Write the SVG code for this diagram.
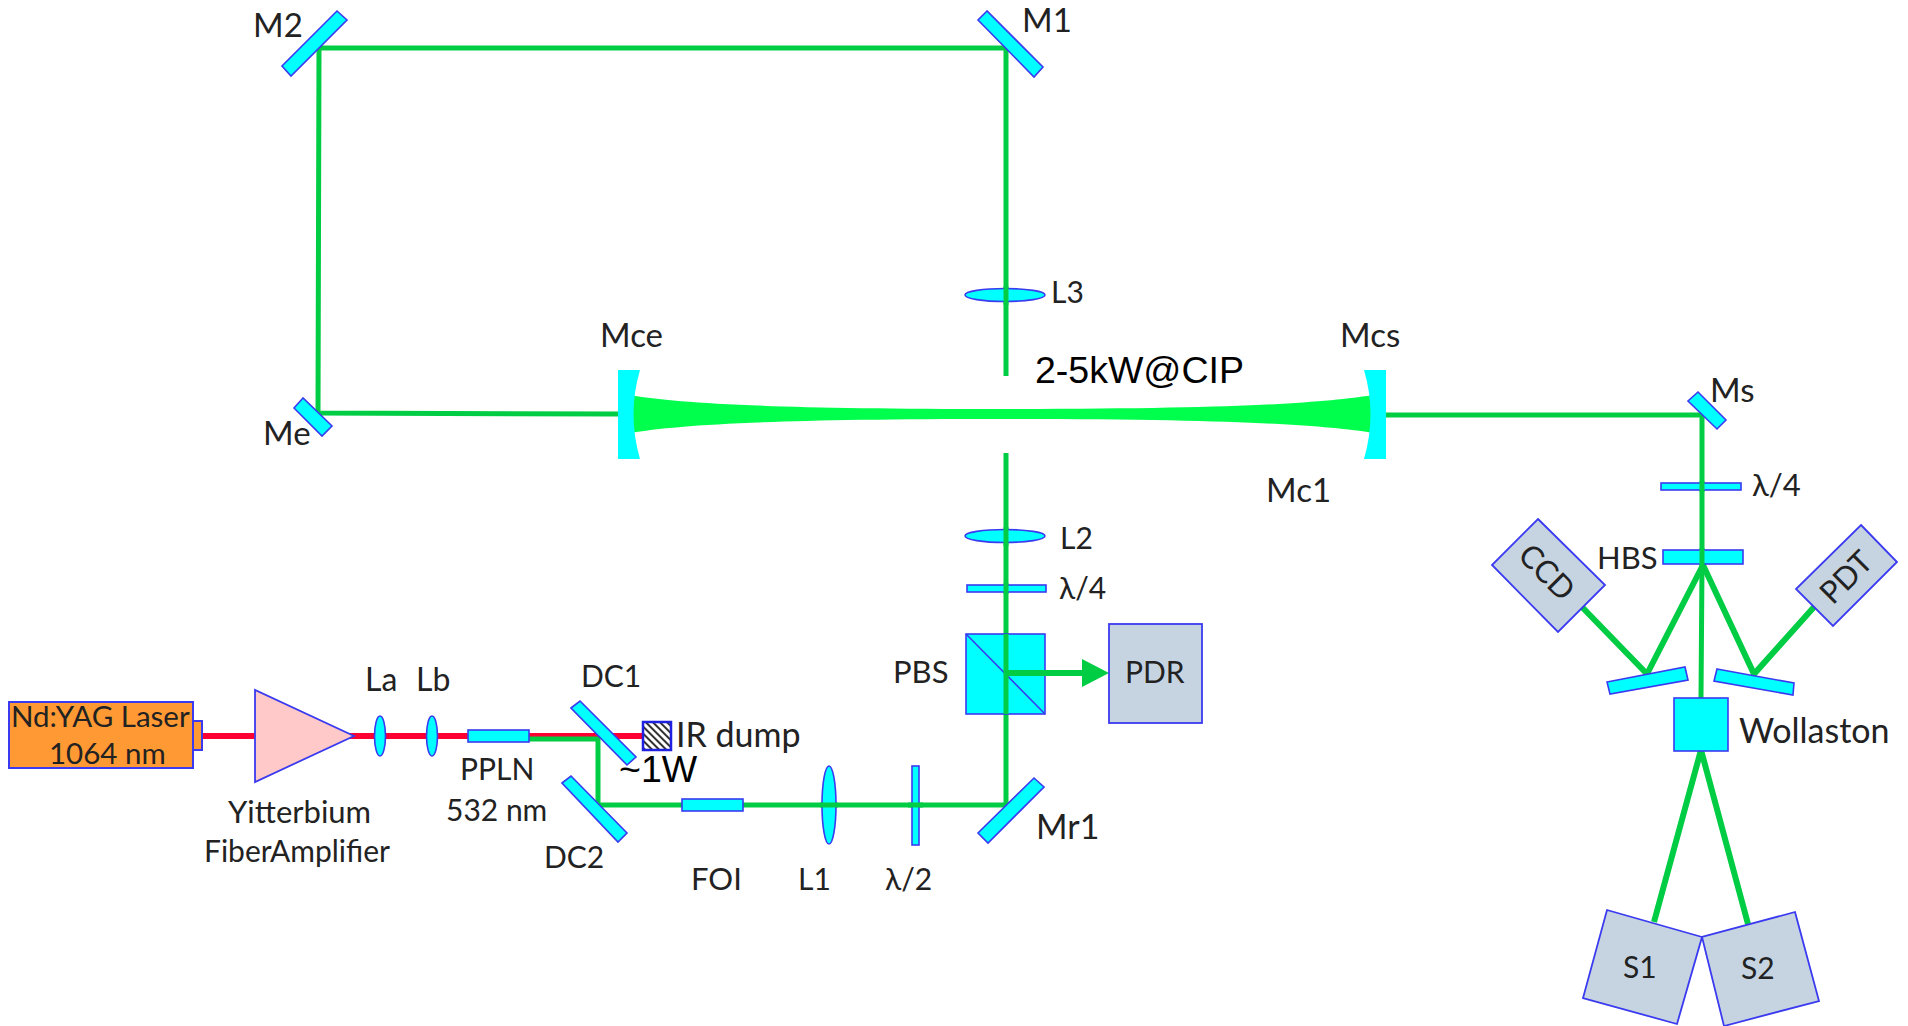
<svg xmlns="http://www.w3.org/2000/svg" width="1908" height="1026" viewBox="0 0 1908 1026">
<style>
.o{fill:#00ffff;stroke:#3a3af0;stroke-width:1.6}
.d{fill:#c6d4e2;stroke:#3a3af0;stroke-width:1.8}
.g{fill:none;stroke:#00cc44;stroke-width:5}
.gt{fill:none;stroke:#00cc44;stroke-width:6}
.r{fill:none;stroke:#ff0033;stroke-width:6}
text{font-family:Lato,"Open Sans",sans-serif;font-size:30px;fill:#222}
.a{font-family:"Liberation Sans",Arial,sans-serif;font-size:37.5px;fill:#000}
.n{font-size:29.5px}
.s31{font-size:31px}
.s32{font-size:32px}
.s33{font-size:33px}
.s34{font-size:34px}
</style>
<defs>
<pattern id="hatch" width="5" height="5" patternUnits="userSpaceOnUse" patternTransform="rotate(-45)">
<rect width="5" height="5" fill="#fff"/><rect width="2" height="5" fill="#333"/>
</pattern>
<marker id="head" markerUnits="userSpaceOnUse" markerWidth="28" markerHeight="28" refX="1" refY="14" orient="auto">
<path d="M0,0L27,14L0,28Z" fill="#00cc44"/>
</marker>
</defs>
<g id="connectors">
<path class="r" d="M200,736H643"/>
<path class="g" d="M529,739H598V805H1006V453"/>
<path class="g" d="M1006,376V48H319L318,413L618,414"/>
<path class="g" d="M1385,415H1702V565L1701,698"/>
<path class="gt" d="M1582,607L1647,674L1703,565L1754,674L1814,607"/>
<path class="gt" d="M1654,922L1701,750L1748,924"/>
<path class="gt" d="M1006,673H1083" marker-end="url(#head)"/>
<path id="beam" fill="#00ff4c" d="M629,395C680,403 760,409 1001,409C1240,409 1320,403 1374,395V433C1320,425 1240,419 1001,419C760,419 680,425 629,433Z"/>
</g>
<g id="laser"><rect x="9" y="702" width="184" height="66" fill="#ff9933" stroke="#3a3af0" stroke-width="2"/><rect x="193" y="721" width="9" height="29" fill="#ff9933" stroke="#3a3af0" stroke-width="2"/><text class="n" x="11" y="727">Nd:YAG Laser</text><text class="n" x="49" y="764">1064 nm</text></g>
<g id="amplifier"><path d="M255,690L255,782L354,736Z" fill="#ffc9c9" stroke="#3a3af0" stroke-width="1.8"/><text class="s31" x="228" y="823">Yitterbium</text><text x="204" y="862">FiberAmplifier</text></g>
<g id="La"><ellipse class="o" cx="380" cy="736" rx="5.5" ry="20"/><text class="s32" x="365" y="691">La</text></g>
<g id="Lb"><ellipse class="o" cx="432" cy="736" rx="5.5" ry="20"/><text class="s32" x="416" y="691">Lb</text></g>
<g id="PPLN"><rect class="o" x="468" y="730" width="61" height="12"/><text x="460" y="780">PPLN</text><text x="446" y="821">532 nm</text></g>
<g id="DC1"><path class="o" d="M571,708L580,701L636,757L627,765Z"/><text x="581" y="687">DC1</text></g>
<g id="IRdump"><rect x="643" y="722" width="28" height="28" fill="url(#hatch)" stroke="#2020e0" stroke-width="2.5"/><text class="s34" x="676" y="747">IR dump</text></g>
<text class="a" x="619" y="782">~1W</text>
<g id="DC2"><path class="o" d="M562,783L571,776L627,833L618,842Z"/><text x="544" y="868">DC2</text></g>
<g id="FOI"><rect class="o" x="682" y="799" width="61" height="12"/><text class="s31" x="691" y="890">FOI</text></g>
<g id="L1"><ellipse class="o" cx="829" cy="805" rx="7" ry="39"/><path class="g" d="M820,805H838"/><text x="798" y="890">L1</text></g>
<g id="halfwave"><rect class="o" x="912" y="766" width="7" height="79"/><path class="g" d="M908,805H923"/><text x="885" y="890">λ/2</text></g>
<g id="Mr1"><path class="o" d="M1034,778L1044,787L988,843L978,833Z"/><text class="s34" x="1036" y="839">Mr1</text></g>
<g id="PBS"><rect class="o" x="966" y="634" width="79" height="80"/><path d="M966,634L1045,714" stroke="#3a3af0" stroke-width="1.6"/><path class="g" d="M1006,634V714"/><path class="gt" d="M1006,673H1083"/><text class="s31" x="893" y="683">PBS</text></g>
<g id="PDR"><rect class="d" x="1109" y="624" width="93" height="99"/><text x="1125" y="683">PDR</text></g>
<g id="L2"><ellipse class="o" cx="1005" cy="536" rx="40" ry="6.5"/><path class="g" d="M1006,527V546"/><text x="1060" y="549">L2</text></g>
<g id="qw1"><rect class="o" x="967" y="585" width="79" height="7"/><path class="g" d="M1006,583V594"/><text x="1059" y="599">λ/4</text></g>
<g id="L3"><ellipse class="o" cx="1005" cy="295" rx="40" ry="6.5"/><path class="g" d="M1006,286V305"/><text x="1051" y="303">L3</text></g>
<g id="M1"><path class="o" d="M987,11L978,20L1034,77L1043,67Z"/><text class="s33" x="1022" y="32">M1</text></g>
<g id="M2"><path class="o" d="M337,11L347,20L291,76L282,66Z"/><text class="s33" x="253" y="37">M2</text></g>
<g id="Me"><path class="o" d="M303,398L294,408L322,436L332,426Z"/><text class="s33" x="263" y="445">Me</text></g>
<g id="Mce"><path fill="#00ffff" d="M618,370H640Q627,414 640,459H618Z"/><text class="s33" x="600" y="347">Mce</text></g>
<g id="Mcs"><path fill="#00ffff" d="M1386,370H1364Q1377,414 1364,459H1386Z"/><text class="s33" x="1340" y="347">Mcs</text><text class="s33" x="1266" y="502">Mc1</text></g>
<text class="a" x="1035" y="383">2-5kW@CIP</text>
<g id="Ms"><path class="o" d="M1698,392L1688,401L1717,429L1726,420Z"/><text class="s33" x="1710" y="402">Ms</text></g>
<g id="qw2"><rect class="o" x="1661" y="483" width="80" height="7"/><path class="g" d="M1702,481V492"/><text class="s31" x="1752" y="496">λ/4</text></g>
<g id="HBS"><rect class="o" x="1663" y="550" width="80" height="14"/><path class="g" d="M1702,548V565"/><text class="s31" x="1597" y="569">HBS</text></g>
<g id="mirrorL"><path class="o" d="M1607,682L1685,667L1688,680L1610,694Z"/></g>
<g id="mirrorR"><path class="o" d="M1717,669L1794,683L1793,695L1714,681Z"/></g>
<g id="CCD"><path class="d" d="M1538,519L1605,585L1558,632L1492,565Z"/><text class="s31" transform="translate(1547,572) rotate(45)" text-anchor="middle" y="11">CCD</text></g>
<g id="PDT"><path class="d" d="M1861,525L1897,562L1833,626L1796,589Z"/><text class="s31" transform="translate(1846,577) rotate(-45)" text-anchor="middle" y="11">PDT</text></g>
<g id="Wollaston"><rect class="o" x="1674" y="698" width="54" height="53"/><text class="s34" x="1739" y="743">Wollaston</text></g>
<g id="S1"><path class="d" d="M1607,910L1702,937L1677,1024L1583,998Z"/><text x="1623" y="978">S1</text></g>
<g id="S2"><path class="d" d="M1795,912L1819,1001L1724,1026L1702,937Z"/><text x="1741" y="979">S2</text></g>
</svg>
